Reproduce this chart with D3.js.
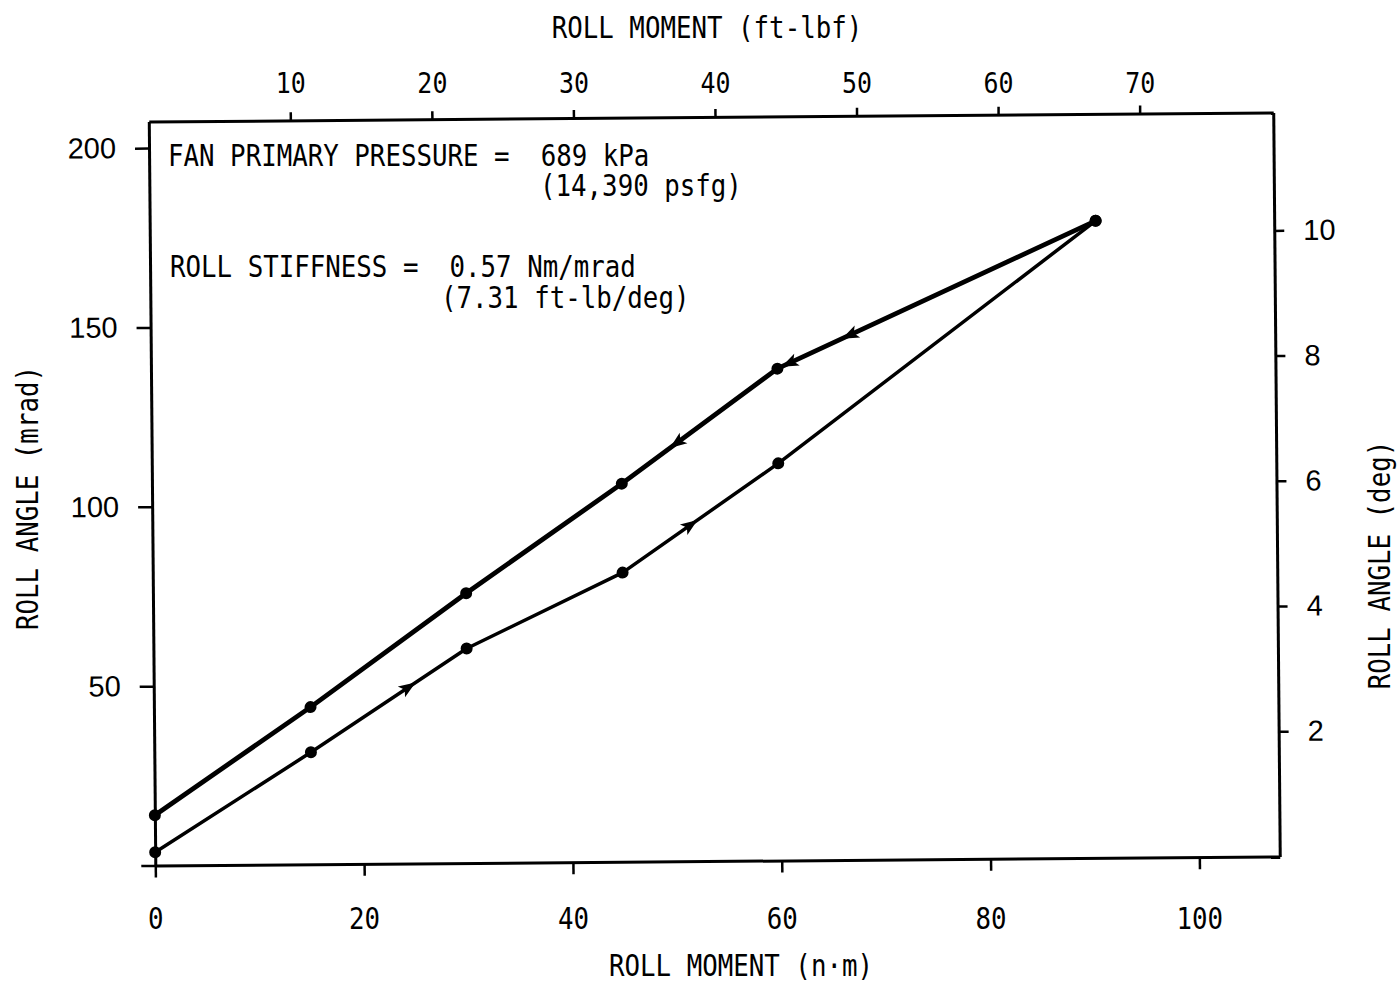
<!DOCTYPE html>
<html>
<head>
<meta charset="utf-8">
<script src="https://cdn.jsdelivr.net/npm/d3@7"></script>
<style>
  body { margin: 0; background: #fff; }
  svg text { fill: #000; }
  .typed { font-family: "DejaVu Sans Mono", "Liberation Mono", monospace; white-space: pre; }
  .wide { font-family: "Liberation Sans", Arial, sans-serif; }
  .axis .domain { stroke: #000; stroke-width: 3; }
  .axis .tick line { stroke: #000; stroke-width: 2.5; }
</style>
</head>
<body>
<svg id="chart" width="1400" height="986"></svg>
<script>
// tick values
const momentTicks = [0, 20, 40, 60, 80, 100];      // n.m (bottom)
const angleTicks = [0, 50, 100, 150, 200];         // mrad (left)
const ftlbfTicks = [10, 20, 30, 40, 50, 60, 70];   // ft-lbf (top)
const degTicks = [2, 4, 6, 8, 10];                 // deg (right)

// loading branch (lower line) and unloading branch (upper line)
const loadMoment = [0, 15, 30, 45, 60, 90.6];
const loadAngle = [3.7, 31.2, 59.8, 80.6, 110.7, 177.6];
const unloadMoment = [90.6, 60, 45, 30, 15, 0];
const unloadAngle = [177.6, 137.1, 105.4, 75.2, 43.8, 14.0];

// arrowheads: segment index and fraction along that segment
const loadArrowSeg = [1, 3];
const loadArrowPos = [0.64, 0.45];
const unloadArrowSeg = [0, 0, 1];
const unloadArrowPos = [0.78, 0.97, 0.66];

const NM_PER_FTLBF = 1.35582;
const DEG_PER_MRAD = 180 / Math.PI / 1000;

// the scanned original is a little tilted / skewed
const TILT = [1.0004, -0.008, 0.00876, 1, -4.81, 5.71];
function T(px, py) {
  return [TILT[0] * px + TILT[2] * py + TILT[4], TILT[1] * px + TILT[3] * py + TILT[5]];
}

const TYPE_SIZE = 30;
const TYPE_SQUEEZE = 0.86;

const svg = d3.select("#chart");
const plot = svg.append("g").attr("transform", "matrix(" + TILT.join(",") + ")");

const x = d3.scaleLinear().domain([0, 107.7]).range([152.5, 1276.5]);
const y = d3.scaleLinear().domain([0, 207.4]).range([861, 117]);
const xTop = d3.scaleLinear().domain(x.domain().map(v => v / NM_PER_FTLBF)).range(x.range());
const yRight = d3.scaleLinear().domain(y.domain().map(v => v * DEG_PER_MRAD)).range(y.range());

// frame + ticks (domain lines make the frame)
plot.append("g")
  .attr("class", "axis")
  .attr("transform", "translate(0," + y(0) + ")")
  .call(d3.axisBottom(x).tickValues(momentTicks).tickSize(12).tickFormat("").tickSizeOuter(0));

plot.append("g")
  .attr("class", "axis")
  .attr("transform", "translate(0," + y.range()[1] + ")")
  .call(d3.axisTop(xTop).tickValues(ftlbfTicks).tickSize(8).tickFormat("").tickSizeOuter(0));

plot.append("g")
  .attr("class", "axis wide")
  .attr("transform", "translate(" + x(0) + ",0)")
  .call(d3.axisLeft(y).tickValues(angleTicks).tickSize(14).tickPadding(19).tickSizeOuter(0)
    .tickFormat(d => d === 0 ? "" : d))
  .attr("font-size", "29px");

plot.append("g")
  .attr("class", "axis wide")
  .attr("transform", "translate(" + x.range()[1] + ",0)")
  .call(d3.axisRight(yRight).tickValues(degTicks).tickSize(10).tickPadding(19).tickSizeOuter(0))
  .attr("font-size", "29px");

// typed tick labels along bottom and top sit level on the page
const xBottomLab = d3.scaleLinear().domain(x.domain()).range(x.range().map(p => T(p, y(0))[0]));
const xTopLab = d3.scaleLinear().domain(xTop.domain()).range(x.range().map(p => T(p, y.range()[1])[0]));

const bottomLab = svg.append("g")
  .attr("class", "typed")
  .attr("transform", "translate(0,929)")
  .call(d3.axisBottom(xBottomLab).tickValues(momentTicks).tickSize(0).tickPadding(0))
  .attr("font-size", TYPE_SIZE + "px");
bottomLab.select(".domain").remove();
bottomLab.selectAll("text").attr("dy", null).attr("y", 0);

const topLab = svg.append("g")
  .attr("class", "typed")
  .attr("transform", "translate(0,93)")
  .call(d3.axisTop(xTopLab).tickValues(ftlbfTicks).tickSize(0).tickPadding(0))
  .attr("font-size", "29px");
topLab.select(".domain").remove();
topLab.selectAll("text").attr("y", 0);

svg.selectAll("text").attr("fill", "#000").attr("font-family", null);
svg.selectAll(".typed text").attr("transform", "scale(" + TYPE_SQUEEZE + ",1)");

// lines
const loadPts = loadMoment.map((m, i) => [m, loadAngle[i]]);
const unloadPts = unloadMoment.map((m, i) => [m, unloadAngle[i]]);
const line = d3.line().x(d => x(d[0])).y(d => y(d[1]));

plot.append("path").datum(loadPts)
  .attr("d", line).attr("fill", "none").attr("stroke", "#000")
  .attr("stroke-width", 3.5).attr("stroke-linejoin", "round");
plot.append("path").datum(unloadPts)
  .attr("d", line).attr("fill", "none").attr("stroke", "#000")
  .attr("stroke-width", 4.8).attr("stroke-linejoin", "round");

// points
plot.selectAll(".pt")
  .data(loadPts.concat(unloadPts))
  .enter().append("circle")
    .attr("cx", d => x(d[0]))
    .attr("cy", d => y(d[1]))
    .attr("r", 6)
    .attr("fill", "#000");

// arrowheads
function arrows(pts, segs, pos) {
  return segs.map((s, i) => {
    const a = pts[s], b = pts[s + 1];
    const x1 = x(a[0]), y1 = y(a[1]), x2 = x(b[0]), y2 = y(b[1]);
    const t = pos[i];
    return { x: x1 + (x2 - x1) * t, y: y1 + (y2 - y1) * t,
             ang: Math.atan2(y2 - y1, x2 - x1) * 180 / Math.PI };
  });
}
const arrowData = arrows(loadPts, loadArrowSeg, loadArrowPos)
  .concat(arrows(unloadPts, unloadArrowSeg, unloadArrowPos));

plot.selectAll(".arrow")
  .data(arrowData)
  .enter().append("path")
    .attr("d", "M6,0 L-11,-6.5 L-7,0 L-11,6.5 Z")
    .attr("transform", d => "translate(" + d.x + "," + d.y + ") rotate(" + d.ang + ")")
    .attr("fill", "#000");

// typewriter-style texts
function typed(tx, ty, rot, anchor, str) {
  svg.append("g")
    .attr("transform", "translate(" + tx + "," + ty + ")" + (rot ? " rotate(" + rot + ")" : ""))
    .append("text")
      .attr("class", "typed")
      .attr("transform", "scale(" + TYPE_SQUEEZE + ",1)")
      .attr("text-anchor", anchor)
      .attr("font-size", TYPE_SIZE + "px")
      .text(str);
}

typed(707, 38, 0, "middle", "ROLL MOMENT (ft-lbf)");
typed(741, 976, 0, "middle", "ROLL MOMENT (n\u00b7m)");
typed(38, 498, -90, "middle", "ROLL ANGLE (mrad)");
typed(1390, 565, -90, "middle", "ROLL ANGLE (deg)");

typed(168, 166, 0, "start", "FAN PRIMARY PRESSURE =  689 kPa");
typed(540, 196, 0, "start", "(14,390 psfg)");
typed(170, 277, 0, "start", "ROLL STIFFNESS =  0.57 Nm/mrad");
typed(441, 308, 0, "start", "(7.31 ft-lb/deg)");
</script>
</body>
</html>
